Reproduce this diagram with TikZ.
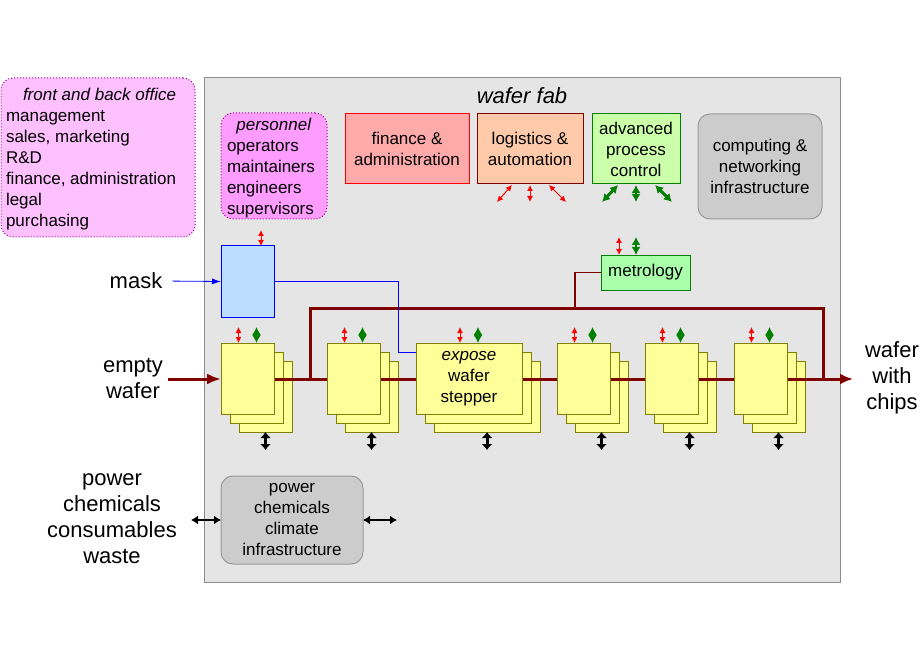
\documentclass[tikz,border=0pt]{standalone}
\usepackage{fontspec}
\setmainfont{Liberation Sans}
\usetikzlibrary{arrows.meta,calc}
\definecolor{fabgray}{HTML}{E5E5E5}
\definecolor{fabborder}{HTML}{8C8C8C}
\definecolor{officefill}{HTML}{FFC0FF}
\definecolor{persfill}{HTML}{FF9CFF}
\definecolor{purpleborder}{HTML}{990099}
\definecolor{finfill}{HTML}{FFAAAA}
\definecolor{logfill}{HTML}{FFCAAA}
\definecolor{apcfill}{HTML}{CCFFAA}
\definecolor{metfill}{HTML}{AAFFAA}
\definecolor{compfill}{HTML}{CCCCCC}
\definecolor{compborder}{HTML}{999999}
\definecolor{maskfill}{HTML}{BBDDFF}
\definecolor{yelfill}{HTML}{FFFF99}
\definecolor{yelborder}{HTML}{808000}
\definecolor{darkred}{HTML}{800000}
\definecolor{dgreen}{HTML}{008000}
\tikzset{
  basebox/.style={inner sep=0pt, outer sep=0pt, anchor=north west, align=center,
    font=\fontsize{17}{21}\selectfont, line width=1pt},
  txt/.style={inner sep=0pt, outer sep=0pt, align=center, font=\fontsize{17}{21}\selectfont},
  bigtxt/.style={inner sep=0pt, outer sep=0pt, align=center, font=\fontsize{22}{26}\selectfont},
  layer/.style={basebox, draw=yelborder, fill=yelfill},
  redarr/.style={red, line width=1pt, {Latex[length=6pt,width=6pt]}-{Latex[length=6pt,width=6pt]}},
  greenarr/.style={dgreen, line width=1.5pt, {Latex[length=8pt,width=9pt]}-{Latex[length=8pt,width=9pt]}},
  blackarr/.style={black, line width=3pt, {Latex[length=6pt,width=11pt]}-{Latex[length=6pt,width=11pt]}},
  hblackarr/.style={black, line width=2.5pt, {Latex[length=7pt,width=9pt]}-{Latex[length=7pt,width=9pt]}},
  mainline/.style={darkred, line width=3pt},
}
\begin{document}
\begin{tikzpicture}[x=1pt,y=-1pt]
\fill[white] (0,0) rectangle (920,660);
\useasboundingbox (0,0) rectangle (920,660);

% wafer fab background
\node[basebox, draw=fabborder, fill=fabgray, minimum width=636pt, minimum height=504pt] (fab) at (204,78) {};
\node[bigtxt, font=\fontsize{22}{26}\selectfont\itshape] (fabtitle) at (522,96) {wafer fab};

% front and back office
\node[basebox, draw=purpleborder, dotted, fill=officefill, rounded corners=12pt,
  minimum width=194pt, minimum height=159pt] (office) at (1,78) {};
\node[txt, anchor=west] (officetxt) at (6,159.5) {\begin{tabular}{@{}l@{}}
\multicolumn{1}{@{}r@{}}{\textit{front and back office}}\\
management\\ sales, marketing\\ R\&D\\ finance, administration\\ legal\\ purchasing
\end{tabular}};

% personnel
\node[basebox, draw=purpleborder, dotted, fill=persfill, rounded corners=12pt,
  minimum width=106pt, minimum height=106pt] (pers) at (221,113) {};
\node[txt, anchor=west] (perstxt) at (227,168) {\begin{tabular}{@{}l@{}}
\multicolumn{1}{@{}c@{}}{\hspace{6pt}\textit{personnel}}\\
operators\\ maintainers\\ engineers\\ supervisors
\end{tabular}};

% top boxes
\node[basebox, draw=red, fill=finfill, minimum width=124pt, minimum height=70pt] (fin) at (345,114) {finance \&\\administration};
\node[basebox, draw=darkred, fill=logfill, minimum width=106pt, minimum height=70pt] (log) at (477,114) {logistics \&\\automation};
\node[basebox, draw=dgreen, fill=apcfill, minimum width=88pt, minimum height=70pt] (apc) at (592,114) {advanced\\process\\control};
\node[basebox, draw=compborder, fill=compfill, rounded corners=12pt, minimum width=124pt, minimum height=105pt] (comp) at (698,114) {computing \&\\networking\\infrastructure};

% arrows under logistics and apc
\coordinate (l1a) at (512,185); \coordinate (l1b) at (497,202);
\coordinate (l2a) at (530,185); \coordinate (l2b) at (530,202);
\coordinate (l3a) at (549,185); \coordinate (l3b) at (566,202);
\draw[redarr] (l1a) -- (l1b);
\draw[redarr] (l2a) -- (l2b);
\draw[redarr] (l3a) -- (l3b);
\coordinate (a1a) at (618,185); \coordinate (a1b) at (602,202);
\coordinate (a2a) at (636,185); \coordinate (a2b) at (636,202);
\coordinate (a3a) at (655,185); \coordinate (a3b) at (672,202);
\draw[greenarr, line width=3pt] (a1a) -- (a1b);
\draw[greenarr] (a2a) -- (a2b);
\draw[greenarr, line width=3pt] (a3a) -- (a3b);

% mask
\node[basebox, draw=blue, fill=maskfill, minimum width=53pt, minimum height=71pt] (mask) at (221,246) {};
\node[bigtxt] (masklbl) at (136,281) {mask};
\draw[blue, line width=0.8pt, -{Latex[length=9pt,width=6pt]}, shorten <=10pt] (masklbl.east) -- (mask.west);
\coordinate (maskup) at (261,230);
\draw[redarr] (maskup) -- (mask.north -| maskup);

% metrology
\node[basebox, draw=dgreen, fill=metfill, minimum width=89pt, minimum height=35pt] (met) at (601,255) {metrology};
\coordinate (metr) at (619,237); \coordinate (metg) at (636,237);
\draw[redarr] (metr) -- (met.north -| metr);
\draw[greenarr] (metg) -- (met.north -| metg);

% back layers
\foreach \n/\x/\w in {1/221/53,2/327/53,3/416/106,4/557/53,5/645/53,6/734/53} {
  \node[layer, minimum width=\w pt, minimum height=71pt] (s\n c) at (\x+18,361) {};
  \node[layer, minimum width=\w pt, minimum height=71pt] (s\n b) at (\x+9,352) {};
}

% main line
\coordinate (in1) at (221,379);
\coordinate (out) at (853,379);
\coordinate (ewstart) at (168,379);
\draw[mainline, -{Latex[length=13pt,width=11pt]}] (in1) -- (out);
\coordinate (loopA) at (310,379); \coordinate (loopB) at (310,308);
\coordinate (loopC) at (823,308); \coordinate (loopD) at (823,379);
\draw[mainline, line join=miter] (loopA) -- (loopB) -- (loopC) -- (loopD);
\coordinate (metjoin) at (575,308);
\draw[darkred, line width=1.2pt] (met.west) -| (metjoin);

% front layers
\foreach \n/\x/\w/\t in {1/221/53/{},2/327/53/{},3/416/106/{\textit{expose}\\wafer\\stepper},4/557/53/{},5/645/53/{},6/734/53/{}} {
  \node[layer, minimum width=\w pt, minimum height=71pt] (s\n) at (\x,343) {\t};
  \draw[redarr] ($(s\n.north)+(-9,-16)$) -- ($(s\n.north)+(-9,0)$);
  \draw[greenarr] ($(s\n.north)+(9,-16)$) -- ($(s\n.north)+(9,0)$);
  \draw[blackarr] (s\n c.south) -- ($(s\n c.south)+(0,18)$);
}

% empty wafer input
\draw[mainline, -{Latex[length=14pt,width=11pt]}] (ewstart) -- (s1.west |- ewstart);
\node[bigtxt] (ewlbl) at (133,378) {empty\\wafer};
\node[bigtxt] (wclbl) at (892,378) {wafer\\with\\chips};

% blue line from mask to stepper
\coordinate (bl1) at (398,281.5);
\coordinate (bl2) at (398,352);
\draw[blue, line width=1pt] (mask.east) -- (bl1) -- (bl2) -- (s3.west |- bl2);

% utilities
\node[basebox, draw=compborder, fill=compfill, rounded corners=12pt, minimum width=142pt, minimum height=88pt] (pow) at (221,476) {power\\chemicals\\climate\\infrastructure};
\node[bigtxt] (powlbl) at (112,519) {power\\chemicals\\consumables\\waste};
\coordinate (pl) at (191,520);
\coordinate (pr) at (397,520);
\draw[hblackarr] (pl) -- (pow.west |- pl);
\draw[hblackarr] (pow.east |- pr) -- (pr);
\end{tikzpicture}
\end{document}
